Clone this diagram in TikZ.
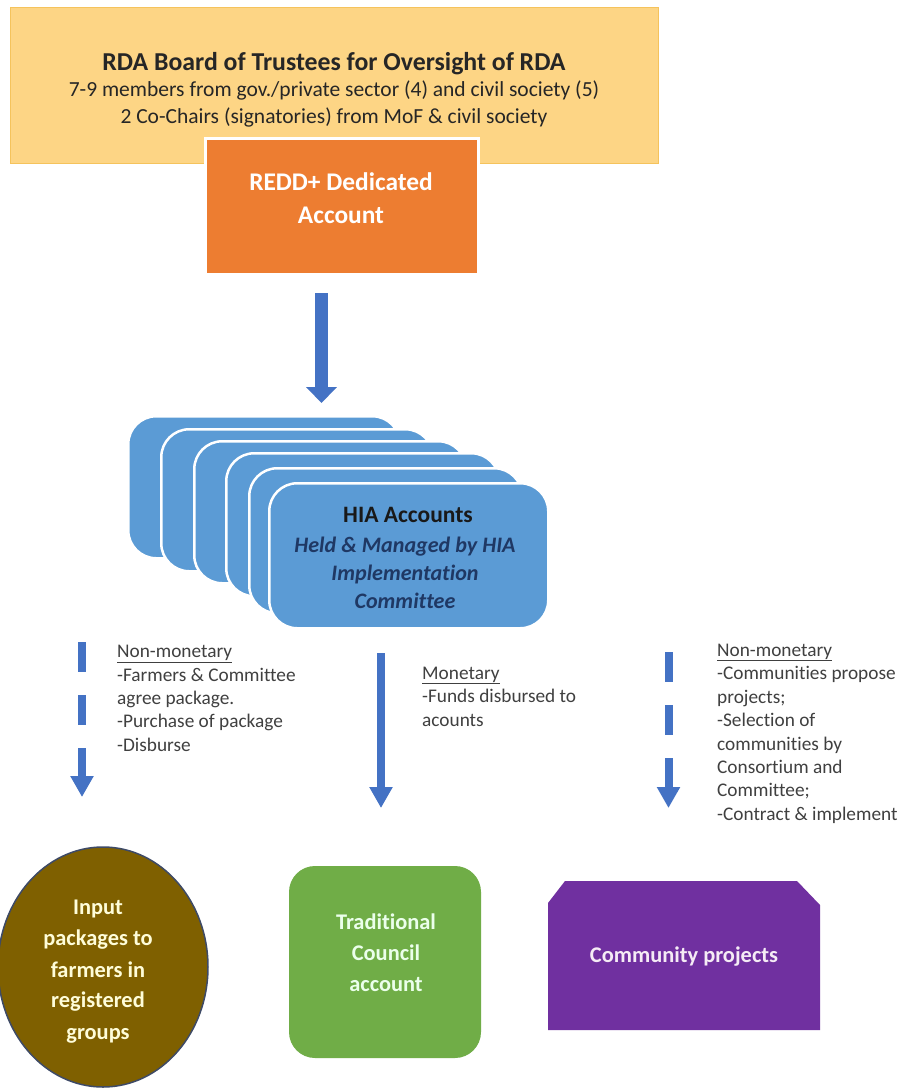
\documentclass[tikz,border=0pt]{standalone}
\usepackage{fontspec}
\setmainfont{Carlito}[Ligatures=NoCommon]
\usetikzlibrary{arrows.meta}
\definecolor{gold}{HTML}{FDD585}
\definecolor{goldline}{HTML}{F5C35C}
\definecolor{reddc}{HTML}{ED7D31}
\definecolor{hiac}{HTML}{5B9BD5}
\definecolor{arrc}{HTML}{4472C4}
\definecolor{txtc}{HTML}{404040}
\definecolor{brownc}{HTML}{7F6000}
\definecolor{greenc}{HTML}{70AD47}
\definecolor{purplec}{HTML}{7030A0}
\definecolor{navyc}{HTML}{1F3864}
\definecolor{ellline}{HTML}{3E4A66}
\begin{document}
\begin{tikzpicture}[x=1pt,y=-1pt,
  bodytxt/.style={inner sep=0pt, anchor=base west, text=txtc, font=\fontsize{19.3}{23}\selectfont},
  boardtxt/.style={inner sep=0pt, anchor=base, text=black!85, font=\fontsize{21.5}{26}\selectfont},
  whitetxt/.style={inner sep=0pt, anchor=base, text=white, font=\bfseries\fontsize{25.4}{30}\selectfont},
  hiatxt/.style={inner sep=0pt, anchor=base, text=navyc, font=\bfseries\itshape\fontsize{22.1}{26}\selectfont},
  shapetxt/.style={inner sep=0pt, anchor=base, font=\bfseries\fontsize{22.4}{28}\selectfont},
  hiabox/.style={fill=hiac, draw=white, line width=2.5pt, rounded corners=28pt, inner sep=0pt, anchor=north west},
  blockarrow/.style={draw=arrc, line width=13pt, -{Triangle[width=30pt,length=16pt]}},
  thinarrow/.style={draw=arrc, line width=8pt, -{Triangle[width=22pt,length=21pt]}},
  dasharrow/.style={thinarrow, dash pattern=on 30pt off 23pt},
]
\useasboundingbox (0,0) rectangle (901,1088);
\fill[white] (0,0) rectangle (901,1088);

% board
\node[draw=goldline, fill=gold, line width=0.8pt, minimum width=648pt, minimum height=156pt, inner sep=0pt] (board) at (334,85) {};
\node[boardtxt, font=\bfseries\fontsize{25.8}{30}\selectfont] (bt1) at (334,70) {RDA Board of Trustees for Oversight of RDA};
\node[boardtxt] (bt2) at (334,96.5) {7-9 members from gov./private sector (4) and civil society (5)};
\node[boardtxt] (bt3) at (334,123.5) {2 Co-Chairs (signatories) from MoF \& civil society};

% REDD+ account
\node[fill=reddc, draw=white, line width=3pt, minimum width=273pt, minimum height=136pt, inner sep=0pt] (redd) at (341.5,206) {};
\node[whitetxt] (rt1) at (341,190.5) {REDD+ Dedicated};
\node[whitetxt] (rt2) at (341,223.5) {Account};

% arrow to HIA
\coordinate (a1s) at (321.5,293);
\coordinate (a1e) at (321.5,403);
\draw[blockarrow] (a1s) -- (a1e);

% HIA stack
\node[hiabox, minimum width=272pt, minimum height=142pt] (hia1) at (127,415) {};
\node[hiabox, minimum width=272pt, minimum height=142pt] (hia2) at (160,428) {};
\node[hiabox, minimum width=272pt, minimum height=142pt] (hia3) at (193,440) {};
\node[hiabox, minimum width=273pt, minimum height=143pt] (hia4) at (225,452) {};
\node[hiabox, minimum width=273pt, minimum height=145pt] (hia5) at (248,467) {};
\node[hiabox, minimum width=279pt, minimum height=145pt] (hia) at (268,482) {};
\node[inner sep=0pt, anchor=base, text=black!90, font=\bfseries\fontsize{23.5}{28}\selectfont] (ht1) at (408,522.5) {HIA Accounts};
\node[hiatxt] (ht2) at (405,552) {Held \& Managed by HIA};
\node[hiatxt] (ht3) at (405,580) {Implementation};
\node[hiatxt] (ht4) at (405,608.5) {Committee};

% arrows down
\coordinate (l1s) at (82,642);
\coordinate (l1e) at (82,797);
\draw[dasharrow] (l1s) -- (l1e);
\coordinate (m1s) at (381,653);
\coordinate (m1e) at (381,808);
\draw[thinarrow] (m1s) -- (m1e);
\coordinate (r1s) at (668.5,652);
\coordinate (r1e) at (668.5,808);
\draw[dasharrow] (r1s) -- (r1e);

% left text
\node[bodytxt] (lt1) at (117,657.5) {\underline{Non-monetary}};
\node[bodytxt] (lt2) at (117,681) {-Farmers \& Committee};
\node[bodytxt] (lt3) at (117,704) {agree package.};
\node[bodytxt] (lt4) at (117,727.5) {-Purchase of package};
\node[bodytxt] (lt5) at (117,751) {-Disburse};

% middle text
\node[bodytxt] (mt1) at (422,679) {\underline{Monetary}};
\node[bodytxt] (mt2) at (422,702.5) {-Funds disbursed to};
\node[bodytxt] (mt3) at (422,726) {acounts};

% right text
\node[bodytxt] (rt1b) at (717,656) {\underline{Non-monetary}};
\node[bodytxt] (rt2b) at (717,679.5) {-Communities propose};
\node[bodytxt] (rt3b) at (717,703) {projects;};
\node[bodytxt] (rt4b) at (717,726.5) {-Selection of};
\node[bodytxt] (rt5b) at (717,750) {communities by};
\node[bodytxt] (rt6b) at (717,773) {Consortium and};
\node[bodytxt] (rt7b) at (717,796.5) {Committee;};
\node[bodytxt] (rt8b) at (717,820) {-Contract \& implement};

% ellipse
\draw[fill=brownc, draw=ellline, line width=1.5pt] (103,967) ellipse [x radius=105, y radius=120];
\coordinate (ell) at (103,967);
\node[shapetxt, text=yellow!15] (et1) at (98,914) {Input};
\node[shapetxt, text=yellow!15] (et2) at (98,945) {packages to};
\node[shapetxt, text=yellow!15] (et3) at (98,977) {farmers in};
\node[shapetxt, text=yellow!15] (et4) at (98,1007.5) {registered};
\node[shapetxt, text=yellow!15] (et5) at (98,1039) {groups};

% green
\node[fill=greenc, rounded corners=26pt, minimum width=192pt, minimum height=192pt, inner sep=0pt] (tc) at (385,962) {};
\node[shapetxt, text=green!8] (gt1) at (386,929.5) {Traditional};
\node[shapetxt, text=green!8] (gt2) at (386,960.5) {Council};
\node[shapetxt, text=green!8] (gt3) at (386,991) {account};

% purple
\fill[purplec] (548,903) -- (565,881) -- (797,881) -- (820,905) -- (820,1030) -- (548,1030) -- cycle;
\node[shapetxt, text=violet!8] (cp) at (684,962) {Community projects};
\end{tikzpicture}
\end{document}
